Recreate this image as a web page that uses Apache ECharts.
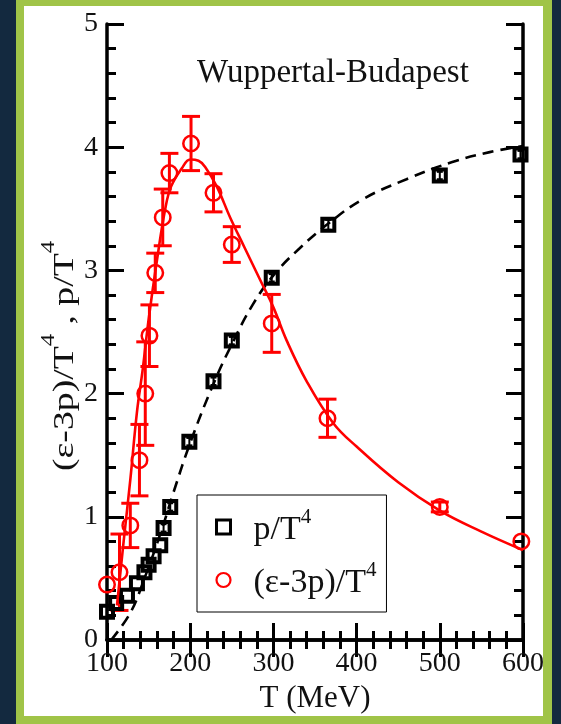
<!DOCTYPE html>
<html>
<head>
<meta charset="utf-8">
<script src="https://cdn.jsdelivr.net/npm/echarts@6/dist/echarts.min.js"></script>
<style>
  html, body { margin: 0; padding: 0; background: #13293f; }
  #chart { width: 561px; height: 724px; }
</style>
</head>
<body>
<div id="chart"></div>
<script>
// Lattice QCD equation of state (Wuppertal-Budapest)
// Pressure p/T^4: temperatures (MeV), values
const pressureT   = [100, 111, 124, 136, 145, 150, 156, 164, 168, 176, 199, 228, 250, 298, 366, 500, 597];
const pressureVal = [0.23, 0.30, 0.36, 0.46, 0.55, 0.61, 0.68, 0.77, 0.91, 1.08, 1.61, 2.10, 2.43, 2.94, 3.37, 3.77, 3.94];
const pressureErr = [0, 0, 0, 0, 0, 0, 0, 0, 0.03, 0.03, 0.03, 0.03, 0.03, 0.03, 0.04, 0.03, 0.03];

// Trace anomaly (ε-3p)/T^4 with statistical errors
const anomalyT   = [100, 115, 128, 139, 146, 151, 158, 167, 175, 201, 228, 250, 298, 365, 500, 598];
const anomalyVal = [0.45, 0.55, 0.93, 1.46, 2.00, 2.47, 2.98, 3.43, 3.79, 4.03, 3.63, 3.21, 2.57, 1.80, 1.08, 0.80];
const anomalyErr = [0, 0.31, 0.18, 0.29, 0.42, 0.25, 0.16, 0.23, 0.16, 0.22, 0.155, 0.145, 0.235, 0.155, 0.04, 0];

// Fitted curve through the trace anomaly
const anomalyFitT = [112, 120, 128, 136, 143, 150, 160, 170, 177, 190, 200, 210, 218, 232, 248, 265, 285, 300, 316, 340, 372, 400, 450, 500, 550, 600];
const anomalyFitV = [0.28, 0.80, 1.30, 1.85, 2.20, 2.60, 3.08, 3.50, 3.68, 3.83, 3.90, 3.89, 3.84, 3.68, 3.43, 3.19, 2.91, 2.70, 2.43, 2.10, 1.76, 1.57, 1.28, 1.05, 0.88, 0.73];

// Integrated pressure curve
const pressureFitT = [105, 128, 145, 165, 180, 200, 228, 250, 275, 300, 330, 366, 408, 460, 515, 560, 600];
const pressureFitV = [0.00, 0.22, 0.50, 0.88, 1.20, 1.60, 2.08, 2.40, 2.72, 2.96, 3.17, 3.38, 3.58, 3.74, 3.88, 3.96, 4.01];

// Axis ticks
const xTicks = [100, 200, 300, 400, 500, 600];
const yTicks = [0, 1, 2, 3, 4, 5];

const SERIF = "'Liberation Serif', 'Times New Roman', serif";
const pairs = (xs, ys) => xs.map((x, i) => [x, ys[i]]);
const bars = (xs, ys, es) => xs.map((x, i) => [x, ys[i] - es[i], ys[i] + es[i]]).filter((d, i) => es[i] > 0);

function errorBar(capHalf, color, width) {
  return function (params, api) {
    const x = api.value(0);
    const top = api.coord([x, api.value(2)]);
    const bot = api.coord([x, api.value(1)]);
    const st = { stroke: color, lineWidth: width };
    return {
      type: 'group',
      children: [
        { type: 'line', shape: { x1: top[0], y1: top[1], x2: bot[0], y2: bot[1] }, style: st },
        { type: 'line', shape: { x1: top[0] - capHalf, y1: top[1], x2: top[0] + capHalf, y2: top[1] }, style: st },
        { type: 'line', shape: { x1: bot[0] - capHalf, y1: bot[1], x2: bot[0] + capHalf, y2: bot[1] }, style: st }
      ]
    };
  };
}

// "p/T^4" -> base text with a raised exponent
function sup(name) {
  const parts = name.split('^');
  return '{g| }{b|' + parts[0] + '}{s|' + parts[1] + '}';
}

const axisCommon = {
  type: 'value',
  axisLine: { show: true, lineStyle: { color: '#000', width: 3.5 } },
  axisTick: { show: true, inside: true, length: 17, lineStyle: { color: '#000', width: 3 } },
  minorTick: { show: true, splitNumber: 5, length: 9, lineStyle: { color: '#000', width: 3 } },
  splitLine: { show: false },
  minorSplitLine: { show: false }
};

const chart = echarts.init(document.getElementById('chart'), null, { renderer: 'canvas' });

chart.setOption({
  backgroundColor: '#13293f',
  animation: false,
  graphic: [
    { type: 'rect', z: -20, shape: { x: 16, y: 0, width: 536, height: 724 }, style: { fill: '#a0c448' } },
    { type: 'rect', z: -19, shape: { x: 24, y: 6, width: 519, height: 710 }, style: { fill: '#ffffff' } },
    {
      type: 'text', z: 10, x: 333, y: 73,
      style: { text: 'Wuppertal-Budapest', font: '33px ' + SERIF, fill: '#111', align: 'center', verticalAlign: 'middle' }
    },
    {
      type: 'text', z: 10, x: 60, y: 356, rotation: Math.PI / 2, scaleX: 1.3,
      style: {
        text: '{b|(ε-3p)/T}{s|4}{b| , p/T}{s|4}',
        align: 'center', verticalAlign: 'middle', fill: '#111',
        rich: {
          b: { fontFamily: SERIF, fontSize: 29, lineHeight: 40, verticalAlign: 'bottom', fill: '#111' },
          s: { fontFamily: SERIF, fontSize: 19, lineHeight: 14, verticalAlign: 'top', fill: '#111' }
        }
      }
    }
  ],
  grid: { left: 107, right: 38, top: 24, bottom: 84, containLabel: false },
  xAxis: [
    Object.assign({}, axisCommon, {
      position: 'bottom', min: xTicks[0], max: xTicks[xTicks.length - 1], interval: 100,
      axisLabel: { show: true, margin: 10, fontFamily: SERIF, fontSize: 28, color: '#111' },
      name: 'T (MeV)', nameLocation: 'middle', nameGap: 30,
      nameTextStyle: { fontFamily: SERIF, fontSize: 31, color: '#111' }
    }),
    Object.assign({}, axisCommon, {
      position: 'top', min: xTicks[0], max: xTicks[xTicks.length - 1], interval: 100,
      axisLabel: { show: false }
    })
  ],
  yAxis: [
    Object.assign({}, axisCommon, {
      position: 'left', min: yTicks[0], max: yTicks[yTicks.length - 1], interval: 1,
      axisLabel: { show: true, margin: 9, fontFamily: SERIF, fontSize: 28, color: '#111' }
    }),
    Object.assign({}, axisCommon, {
      position: 'right', min: yTicks[0], max: yTicks[yTicks.length - 1], interval: 1,
      axisLabel: { show: false }
    })
  ],
  legend: {
    orient: 'vertical', left: 197, top: 495,
    backgroundColor: '#fff', borderColor: '#000', borderWidth: 1, borderRadius: 0,
    padding: [12, 10, 12, 18], itemGap: 13, itemWidth: 14, itemHeight: 14,
    formatter: sup,
    textStyle: {
      rich: {
        g: { width: 18, fontSize: 12, lineHeight: 40 },
        b: { fontFamily: SERIF, fontSize: 34, lineHeight: 40, verticalAlign: 'bottom', color: '#111' },
        s: { fontFamily: SERIF, fontSize: 21, lineHeight: 12, verticalAlign: 'top', color: '#111' }
      }
    },
    data: [
      { name: 'p/T^4', icon: 'path://M0,0H14V14H0Z',
        itemStyle: { color: 'transparent', borderColor: '#000', borderWidth: 3 } },
      { name: '(ε-3p)/T^4', icon: 'path://M7.5,0A7.5,7.5,0,1,1,7.5,15A7.5,7.5,0,1,1,7.5,0Z',
        itemStyle: { color: 'transparent', borderColor: '#ff0000', borderWidth: 2.2 } }
    ]
  },
  series: [
    {
      name: 'pressure fit', type: 'line', smooth: 0.4, showSymbol: false, silent: true,
      data: pairs(pressureFitT, pressureFitV),
      lineStyle: { color: '#000', width: 2.6, type: [11, 7] }
    },
    {
      name: 'anomaly fit', type: 'line', smooth: 0.4, showSymbol: false, silent: true,
      data: pairs(anomalyFitT, anomalyFitV),
      lineStyle: { color: '#ff0000', width: 2.6 }
    },
    {
      name: 'anomaly errors', type: 'custom', silent: true, clip: false,
      renderItem: errorBar(9, '#ff0000', 3),
      encode: { x: 0, y: [1, 2] },
      data: bars(anomalyT, anomalyVal, anomalyErr)
    },
    {
      name: 'pressure errors', type: 'custom', silent: true, clip: false,
      renderItem: errorBar(3, '#000', 2),
      encode: { x: 0, y: [1, 2] },
      data: bars(pressureT, pressureVal, pressureErr)
    },
    {
      name: 'p/T^4', type: 'scatter', symbol: 'rect', symbolSize: 12, clip: false,
      data: pairs(pressureT, pressureVal),
      itemStyle: { color: 'transparent', borderColor: '#000', borderWidth: 4, opacity: 1 }
    },
    {
      name: '(ε-3p)/T^4', type: 'scatter', symbol: 'circle', symbolSize: 15.5, clip: false,
      data: pairs(anomalyT, anomalyVal),
      itemStyle: { color: 'transparent', borderColor: '#ff0000', borderWidth: 2.5, opacity: 1 }
    }
  ]
});
</script>
</body>
</html>
